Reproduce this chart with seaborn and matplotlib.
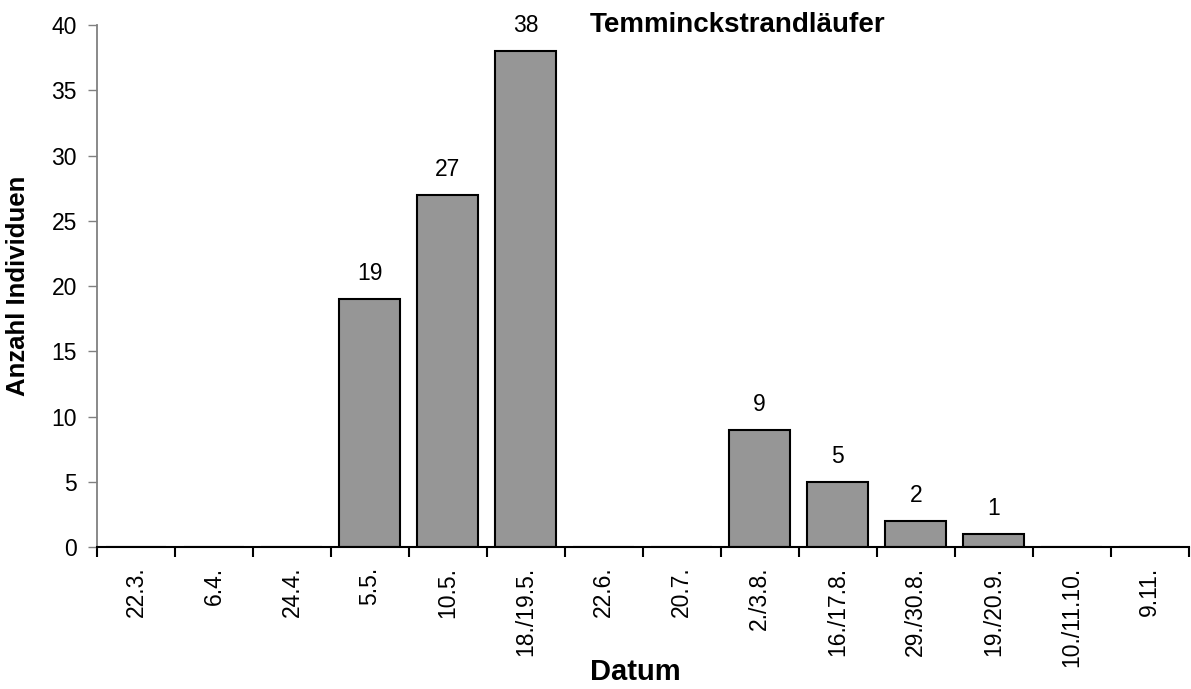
import numpy as np
import pandas as pd
import seaborn as sns
import matplotlib.pyplot as plt

# Daten
datum = ['22.3.', '6.4.', '24.4.', '5.5.', '10.5.', '18./19.5.', '22.6.', '20.7.',
         '2./3.8.', '16./17.8.', '29./30.8.', '19./20.9.', '10./11.10.', '9.11.']
anzahl = [0, 0, 0, 19, 27, 38, 0, 0, 9, 5, 2, 1, 0, 0]

df = pd.DataFrame({'Datum': datum, 'Anzahl': anzahl})

sns.set_style('white')
plt.rcParams['font.family'] = ['Liberation Sans', 'DejaVu Sans']
plt.rcParams['text.color'] = 'black'
plt.rcParams['axes.labelcolor'] = 'black'

fig = plt.figure(figsize=(11.91, 6.89), dpi=100)
ax = fig.add_axes([0.0814, 0.206, 0.9166, 0.7577])

sns.barplot(data=df, x='Datum', y='Anzahl', color='#969696', saturation=1,
            width=0.78, edgecolor='black', linewidth=1.5, ax=ax)

# Werte über den Balken
for i, v in enumerate(anzahl):
    if v > 0:
        ax.annotate(str(v), (i, v), xytext=(0, 10), textcoords='offset points',
                    ha='center', va='bottom', fontsize=16.5)

ax.set_xlim(-0.5, len(datum) - 0.5)
ax.set_ylim(0, 40)
ax.set_yticks(range(0, 41, 5))

# Striche zwischen den Kategorien
ax.set_xticks(np.arange(-0.5, len(datum), 1), minor=True)
ax.tick_params(axis='x', which='minor', direction='out', length=7, width=1.5, color='black', bottom=True)
ax.tick_params(axis='x', which='major', length=0, pad=14, labelsize=16.5, labelrotation=90,
               labelcolor='black')
ax.tick_params(axis='y', direction='out', length=6.5, width=1, color='#808080', left=True,
               labelsize=16.5, pad=8, labelcolor='black')

for s in ['top', 'right']:
    ax.spines[s].set_visible(False)
ax.spines['left'].set_color('#808080')
ax.spines['left'].set_linewidth(1.3)
ax.spines['bottom'].set_color('black')
ax.spines['bottom'].set_linewidth(1.5)

ax.set_xlabel('Datum', fontsize=21, fontweight='bold')
ax.xaxis.set_label_coords(0.493, -0.212)
ax.set_ylabel('Anzahl Individuen', fontsize=18.5, fontweight='bold')
ax.yaxis.set_label_coords(-0.061, 0.5)
ax.text(0.587, 0.9866, 'Temminckstrandläufer', transform=ax.transAxes,
        ha='center', va='baseline', fontsize=20, fontweight='bold')

plt.savefig('out.png', dpi=100)
